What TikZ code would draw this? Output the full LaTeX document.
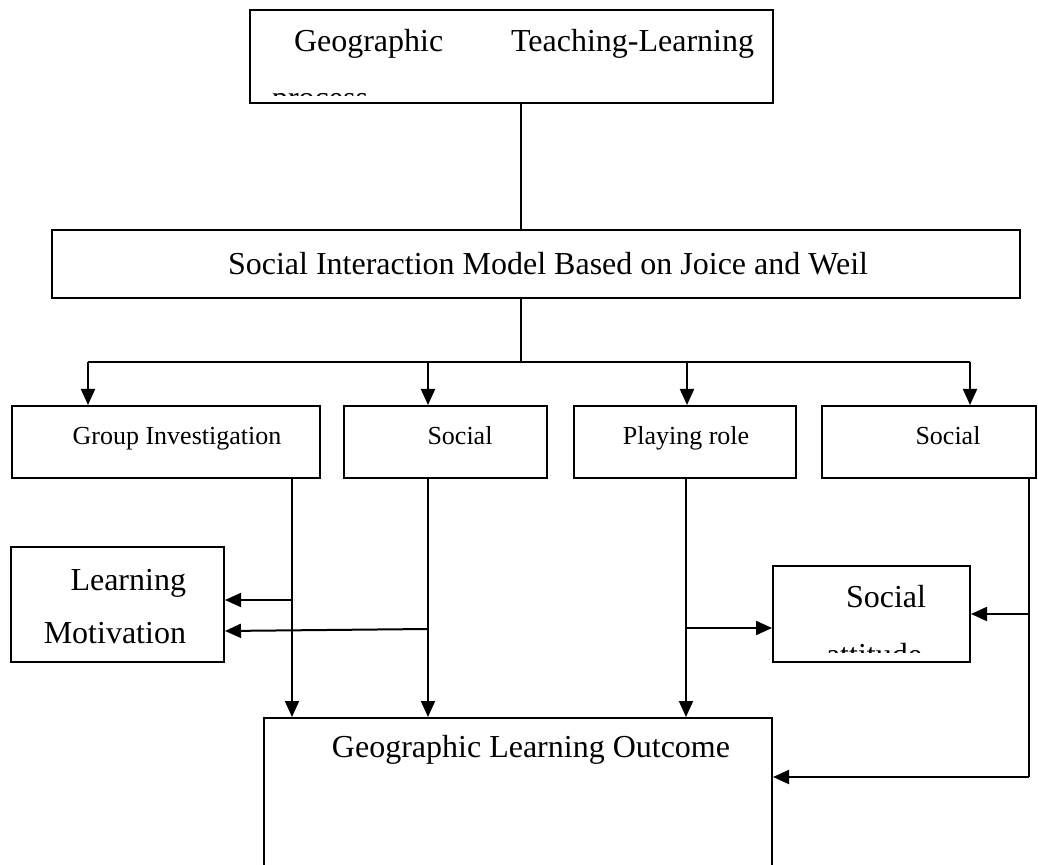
\documentclass[tikz,border=0pt]{standalone}
\usepackage{fontspec}
\setmainfont{Liberation Serif}
\usetikzlibrary{arrows.meta}

\begin{document}
\begin{tikzpicture}[x=0.5pt, y=-0.5pt, line width=1pt,
  box/.style={draw, rectangle, inner sep=0pt},
  big/.style={inner sep=0pt, font=\fontsize{16}{19}\selectfont},
  small/.style={inner sep=0pt, font=\fontsize{13}{16}\selectfont},
  arr/.style={-{Triangle[length=8pt,width=7pt]}}]
  \useasboundingbox (0,0) rectangle (1038,865);

  % Boxes
  \node[box, minimum width=261.5pt, minimum height=46.5pt] (top) at (511.5,56.5) {};
  \node[box, minimum width=484pt, minimum height=34pt] (model) at (536,264) {};
  \node[box, minimum width=154pt, minimum height=36pt] (gi) at (166,442) {};
  \node[box, minimum width=101.5pt, minimum height=36pt] (soc1) at (445.5,442) {};
  \node[box, minimum width=111pt, minimum height=36pt] (role) at (685,442) {};
  \node[box, minimum width=107pt, minimum height=36pt] (soc2) at (929,442) {};
  \node[box, minimum width=106.5pt, minimum height=57.5pt] (motiv) at (117.5,604.5) {};
  \node[box, minimum width=98.5pt, minimum height=48pt] (attit) at (871.5,614) {};
  \node[box, minimum width=254pt, minimum height=81pt] (outcome) at (518,799) {};

  % Texts
  \node[big, anchor=base west] (topa) at (293,52) {Geographic};
  \node[big, anchor=base east] (topb) at (755,52) {Teaching-Learning};
  \begin{scope}
    \clip (top.north west) rectangle (773,96);
    \node[big, anchor=base west] (topc) at (271,109) {process};
  \end{scope}
  \node[big, anchor=base] (modeltxt) at (548,275) {Social Interaction Model Based on Joice and Weil};
  \node[small, anchor=base] (gitxt) at (177,445) {Group Investigation};
  \node[small, anchor=base] (soc1txt) at (460,445) {Social};
  \node[small, anchor=base] (roletxt) at (686,445) {Playing role};
  \node[small, anchor=base] (soc2txt) at (948,445) {Social};
  \node[big, anchor=base east] (motiva) at (187,590) {Learning};
  \node[big, anchor=base east] (motivb) at (187,643) {Motivation};
  \node[big, anchor=base west] (attita) at (845,607) {Social};
  \begin{scope}
    \clip (attit.north west) rectangle (970,652);
    \node[big, anchor=base west] (attitb) at (825,665) {attitude};
  \end{scope}
  \node[big, anchor=base] (outtxt) at (531,757) {Geographic Learning Outcome};

  % Wires
  \coordinate (hub) at (521,362);
  \draw (top.south -| hub) -- (model.north -| hub);
  \draw (model.south -| hub) -- (hub);
  \foreach \n/\x in {gi/88, soc1/428, role/687, soc2/970}
    \coordinate (b\n) at (\x,362);
  \draw (bgi) -- (bsoc2);
  \foreach \n in {gi, soc1, role, soc2}
    \draw[arr] (b\n) -- (b\n |- \n.north);

  % Down to outcome
  \coordinate (jgi) at (292,600);
  \coordinate (jsoc) at (428,629);
  \coordinate (jrole) at (686,628);
  \coordinate (jsoc2) at (1029,614);
  \coordinate (jout) at (1029,777);
  \draw[arr] (gi.south -| jgi) -- (outcome.north -| jgi);
  \draw[arr] (soc1.south -| jsoc) -- (outcome.north -| jsoc);
  \draw[arr] (role.south -| jrole) -- (outcome.north -| jrole);
  \draw (soc2.south -| jsoc2) -- (jout);

  % Side arrows
  \draw[arr] (jgi) -- (jgi -| motiv.east);
  \draw[arr] (jsoc) -- ([yshift=-1pt]jsoc -| motiv.east);
  \draw[arr] (jrole) -- (jrole -| attit.west);
  \draw[arr] (jsoc2) -- (jsoc2 -| attit.east);
  \draw[arr] (jout) -- (jout -| outcome.east);
\end{tikzpicture}
\end{document}
